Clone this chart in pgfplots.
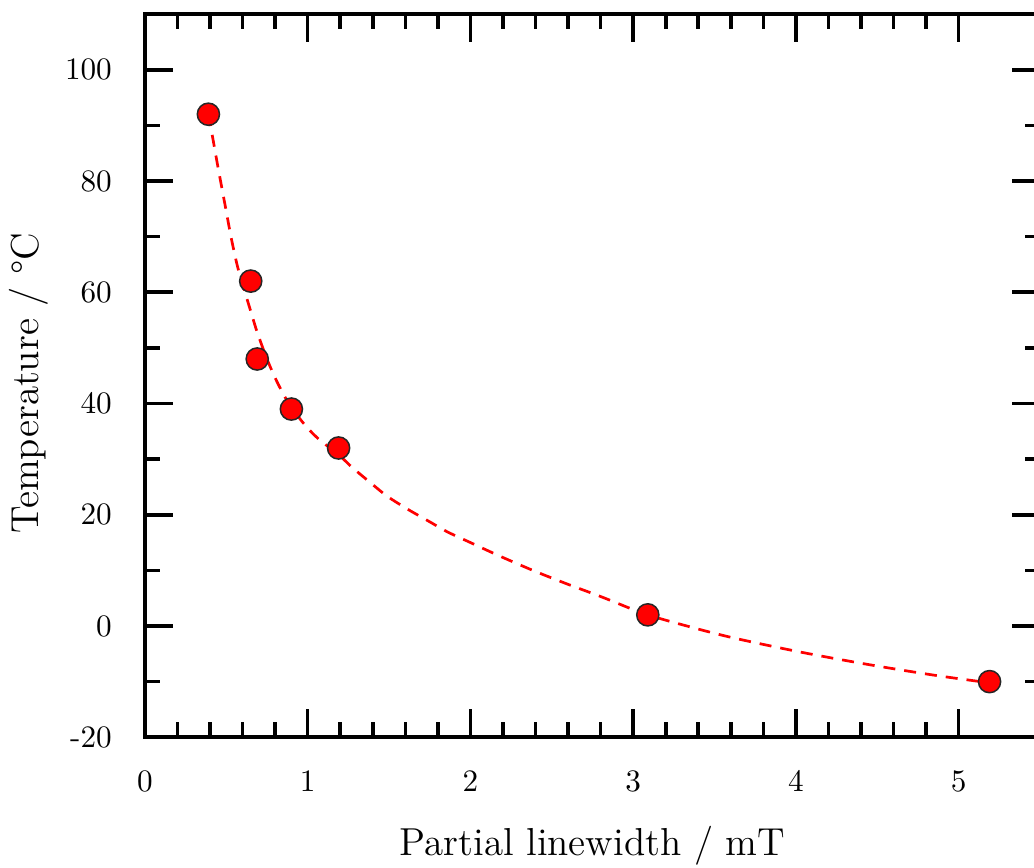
\documentclass[border=0pt]{standalone}
\usepackage{fontspec}
\usepackage{pgfplots}
\pgfplotsset{compat=1.18}

% measured points
\pgfplotstableread{
x    T
0.39 92.0
0.65 62.0
0.69 48.0
0.90 39.0
1.19 32.0
3.09 2.0
5.19 -10.0
}\points

\begin{document}
\begin{tikzpicture}
\begin{axis}[
  at={(0pt,0pt)}, anchor=south west,
  scale only axis,
  width=298.3pt, height=241pt,
  xmin=0, xmax=5.5, ymin=-20, ymax=110,
  xtick={0,1,2,3,4,5},
  ytick={-20,0,20,40,60,80,100},
  yticklabels={-20,0,20,40,60,80,100},
  xticklabels={0,1,2,3,4,5},
  minor x tick num=4, minor y tick num=1,
  tick pos=both, tick align=inside,
  major tick length=9.3pt, minor tick length=5pt,
  tick style={line width=1.2pt, black},
  axis line style={line width=1.3pt},
  ticklabel style={font=\fontsize{10.4}{12}\selectfont},
  xticklabel style={yshift=-7.5pt},
  yticklabel style={xshift=-7.5pt},
  every axis x label/.style={at={(axis description cs:0.5,0)}, anchor=center,
    yshift=-36.3pt, font=\fontsize{13}{15}\selectfont},
  every axis y label/.style={at={(axis description cs:0,0.49)}, xshift=-38.7pt,
    anchor=center, rotate=90, font=\fontsize{13}{15}\selectfont},
  xlabel={Partial linewidth / mT},
  ylabel={Temperature / °C},
]
% fitted curve
\addplot[red, line width=0.9pt, dash pattern=on 4pt off 3pt, smooth] coordinates {
(0.39,92.0) (0.42,87.2) (0.45,82.3) (0.50,74.5) (0.53,69.8) (0.57,64.5)
(0.62,59.5) (0.65,56.6) (0.69,52.8) (0.75,48.0) (0.81,44.0) (0.88,40.2)
(0.97,36.6) (1.06,33.8) (1.19,30.8) (1.27,28.6) (1.38,25.9) (1.49,23.3)
(1.62,20.9) (1.74,18.9) (1.86,16.9) (2.00,15.0) (2.14,13.1) (2.24,11.8)
(2.40,9.8) (2.59,7.6) (2.80,5.3) (3.07,2.2) (3.33,0.0) (3.61,-2.1)
(4.03,-4.7) (4.44,-6.9) (4.84,-8.8) (5.21,-10.3) (5.30,-10.6)
};
\addplot[only marks, mark=*, mark size=3.7pt,
  mark options={fill=red, draw=black!85, line width=0.5pt}] table[x=x, y=T] {\points};
\end{axis}
\pgfresetboundingbox
\path[use as bounding box] (-48.3pt,-43.3pt) rectangle (296.3pt,245.7pt);
\end{tikzpicture}
\end{document}
